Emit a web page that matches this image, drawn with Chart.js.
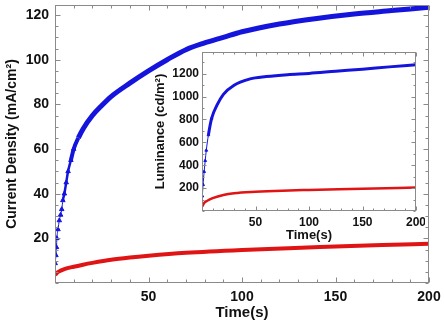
<!DOCTYPE html>
<html>
<head>
<meta charset="utf-8">
<script src="https://cdn.jsdelivr.net/npm/chart.js@4"></script>
<style>
  body { margin: 0; background: #fff; }
  #wrap { position: relative; width: 444px; height: 324px; }
  #main { position: absolute; left: 0; top: 0; }
  #inset { position: absolute; left: 150px; top: 45px; }
</style>
</head>
<body>
<div id="wrap">
  <canvas id="main" width="444" height="324"></canvas>
  <canvas id="inset" width="275" height="200"></canvas>
</div>
<script>
// main plot: current density vs time
var jTimeBlue = [0.1, 0.5, 0.8, 1, 1.6, 2.3, 3, 3.6, 4.2, 5, 6, 7, 8.5, 10, 12.5, 15, 20, 25, 30, 40, 50, 60, 70, 80, 90, 100, 120, 140, 160, 180, 200]
var jBlue = [8.8, 12.4, 16, 20, 24, 28, 30.5, 33, 37, 40, 45, 50, 55, 60, 65, 69, 75, 79.5, 83.5, 89.5, 95, 100, 104.5, 107.5, 110, 112.5, 116, 118.5, 120.5, 122, 123.5]
var jTimeRed = [0.1, 1, 2, 5, 10, 15, 20, 30, 40, 50, 70, 100, 125, 150, 175, 200]
var jRed = [3.6, 4.5, 5.1, 6.2, 7.3, 8.2, 9, 10.4, 11.4, 12.2, 13.5, 14.8, 15.6, 16.3, 17, 17.6]
var jTickLabels = [20, 40, 60, 80, 100, 120]
var timeTickLabels = [50, 100, 150, 200]

// inset: luminance vs time
var lTimeBlue = [0.3, 1, 2, 3, 4, 6, 9, 14, 20, 30, 45, 60, 80, 100, 125, 150, 175, 200]
var lBlue = [130, 230, 344, 440, 530, 665, 810, 925, 1020, 1100, 1155, 1175, 1192, 1203, 1222, 1240, 1260, 1278]
var lTimeRed = [0.3, 2, 5, 10, 20, 30, 50, 75, 100, 150, 200]
var lRed = [40, 70, 90, 112, 140, 155, 168, 178, 184, 194, 205]
var lTickLabels = [200, 400, 600, 800, 1000, 1200]

var BLUE = '#1414dc'
var RED = '#e01414'
var FONT = "'Liberation Sans', Arial, sans-serif"

function pts(xs, ys) {
    return xs.map(function (t, i) { return { x: t, y: ys[i] } })
}
function isLabel(list, v) {
    return list.some(function (l) { return Math.abs(l - v) < 1e-6 })
}
// tick marks every `step` from min up to max (labels are picked from the arrays above)
function stepTicks(step) {
    return function (s) {
        var out = []
        for (var i = 0; s.min + i * step <= s.max + 1e-9; i++) {
            out.push({ value: Math.round((s.min + i * step) * 1000) / 1000 })
        }
        s.ticks = out
    }
}

// box round the plot + inward ticks on all four sides
var frameTicks = {
    id: 'frameTicks',
    afterDraw(chart, args, o) {
        var ctx = chart.ctx, a = chart.chartArea
        var x = chart.scales.x, y = chart.scales.y
        ctx.save()
        ctx.strokeStyle = '#8a8a8a'
        ctx.lineWidth = 1
        var l = Math.round(a.left) + 0.5, r = Math.round(a.right) - 0.5
        var t = Math.round(a.top) + 0.5, b = Math.round(a.bottom) - 0.5
        ctx.strokeRect(l, t, r - l, b - t)
        ctx.beginPath()
        x.ticks.forEach(function (tk) {
            var px = Math.round(x.getPixelForValue(tk.value)) + 0.5
            var len = isLabel(o.xLabels, tk.value) ? o.major : o.minor
            ctx.moveTo(px, b); ctx.lineTo(px, b - len)
            ctx.moveTo(px, t); ctx.lineTo(px, t + len)
        })
        y.ticks.forEach(function (tk) {
            var py = Math.round(y.getPixelForValue(tk.value)) + 0.5
            var len = isLabel(o.yLabels, tk.value) ? o.major : o.minor
            ctx.moveTo(l, py); ctx.lineTo(l + len, py)
            ctx.moveTo(r, py); ctx.lineTo(r - len, py)
        })
        ctx.stroke()
        ctx.restore()
    }
}

function noPadX(s, h) { s.height = h; s.paddingLeft = 0; s.paddingRight = 0 }
function noPadY(s, w) { s.width = w; s.paddingTop = 0; s.paddingBottom = 0 }

// early points are separate markers, later ones merge into a thick band
function blueWidth(c) {
    var t = c.p0.parsed.x
    if (t < 4) return 1
    if (t < 8) return 2.5
    if (t < 12) return 4
    return 5
}

var main = new Chart(document.getElementById('main').getContext('2d'), {
    type: 'scatter',
    data: {
        datasets: [{
            data: pts(jTimeBlue, jBlue),
            showLine: true,
            borderColor: BLUE,
            backgroundColor: BLUE,
            cubicInterpolationMode: 'monotone',
            pointStyle: 'triangle',
            pointRadius: function (c) { return c.raw && c.raw.x < 11 ? 2.6 : 0 },
            segment: { borderWidth: blueWidth }
        }, {
            data: pts(jTimeRed, jRed),
            showLine: true,
            borderColor: RED,
            borderWidth: 4,
            cubicInterpolationMode: 'monotone',
            pointRadius: 0
        }]
    },
    options: {
        responsive: false,
        animation: false,
        layout: { padding: { top: 3, right: 15, left: 0, bottom: 0 } },
        plugins: {
            legend: { display: false },
            tooltip: { enabled: false },
            frameTicks: { xLabels: timeTickLabels, yLabels: jTickLabels, major: 5, minor: 3 }
        },
        scales: {
            x: {
                type: 'linear', min: 0, max: 200,
                afterBuildTicks: stepTicks(10),
                afterFit: function (s) { noPadX(s, 41) },
                grid: { display: false, drawTicks: false }, border: { display: false },
                ticks: {
                    padding: 6, color: '#111', maxRotation: 0, autoSkip: false,
                    font: { family: FONT, size: 14, weight: 'bold' },
                    callback: function (v) { return isLabel(timeTickLabels, v) ? String(v) : '' }
                },
                title: {
                    display: true, text: 'Time(s)', color: '#111',
                    font: { family: FONT, size: 15, weight: 'bold' }, padding: { top: 0, bottom: 2 }
                }
            },
            y: {
                min: 0, max: 124.5,
                afterBuildTicks: stepTicks(5),
                afterFit: function (s) { noPadY(s, 55) },
                grid: { display: false, drawTicks: false }, border: { display: false },
                ticks: {
                    padding: 6, color: '#111', autoSkip: false,
                    font: { family: FONT, size: 14, weight: 'bold' },
                    callback: function (v) { return isLabel(jTickLabels, v) ? String(v) : '' }
                },
                title: {
                    display: true, text: 'Current Density (mA/cm²)', color: '#111',
                    font: { family: FONT, size: 14, weight: 'bold' }, padding: { top: 4, bottom: 0 }
                }
            }
        }
    },
    plugins: [frameTicks]
});

var inset = new Chart(document.getElementById('inset').getContext('2d'), {
    type: 'scatter',
    data: {
        datasets: [{
            data: pts(lTimeBlue, lBlue),
            showLine: true,
            borderColor: BLUE,
            backgroundColor: BLUE,
            cubicInterpolationMode: 'monotone',
            pointStyle: 'triangle',
            pointRadius: function (c) { return c.raw && c.raw.x < 10 ? 1.6 : 0 },
            segment: { borderWidth: function (c) { return c.p0.parsed.x < 6 ? 1 : 3 } }
        }, {
            data: pts(lTimeRed, lRed),
            showLine: true,
            borderColor: RED,
            borderWidth: 2.5,
            cubicInterpolationMode: 'monotone',
            pointRadius: 0
        }]
    },
    options: {
        responsive: false,
        animation: false,
        layout: { padding: { top: 7, right: 9, left: 0, bottom: 0 } },
        plugins: {
            legend: { display: false },
            tooltip: { enabled: false },
            frameTicks: { xLabels: timeTickLabels, yLabels: lTickLabels, major: 4, minor: 2 }
        },
        scales: {
            x: {
                type: 'linear', min: 0, max: 200,
                afterBuildTicks: stepTicks(10),
                afterFit: function (s) { noPadX(s, 34) },
                grid: { display: false, drawTicks: false }, border: { display: false },
                ticks: {
                    padding: 4, color: '#111', maxRotation: 0, autoSkip: false,
                    font: { family: FONT, size: 12, weight: 'bold' },
                    callback: function (v) { return isLabel(timeTickLabels, v) ? String(v) : '' }
                },
                title: {
                    display: true, text: 'Time(s)', color: '#111',
                    font: { family: FONT, size: 13, weight: 'bold' }, padding: { top: 0, bottom: 2 }
                }
            },
            y: {
                min: 0, max: 1390,
                afterBuildTicks: stepTicks(100),
                afterFit: function (s) { noPadY(s, 52) },
                grid: { display: false, drawTicks: false }, border: { display: false },
                ticks: {
                    padding: 3, color: '#111', autoSkip: false,
                    font: { family: FONT, size: 12, weight: 'bold' },
                    callback: function (v) { return isLabel(lTickLabels, v) ? String(v) : '' }
                },
                title: {
                    display: true, text: 'Luminance (cd/m²)', color: '#111',
                    font: { family: FONT, size: 13, weight: 'bold' }, padding: { top: 3, bottom: 0 }
                }
            }
        }
    },
    plugins: [frameTicks]
});
</script>
</body>
</html>
